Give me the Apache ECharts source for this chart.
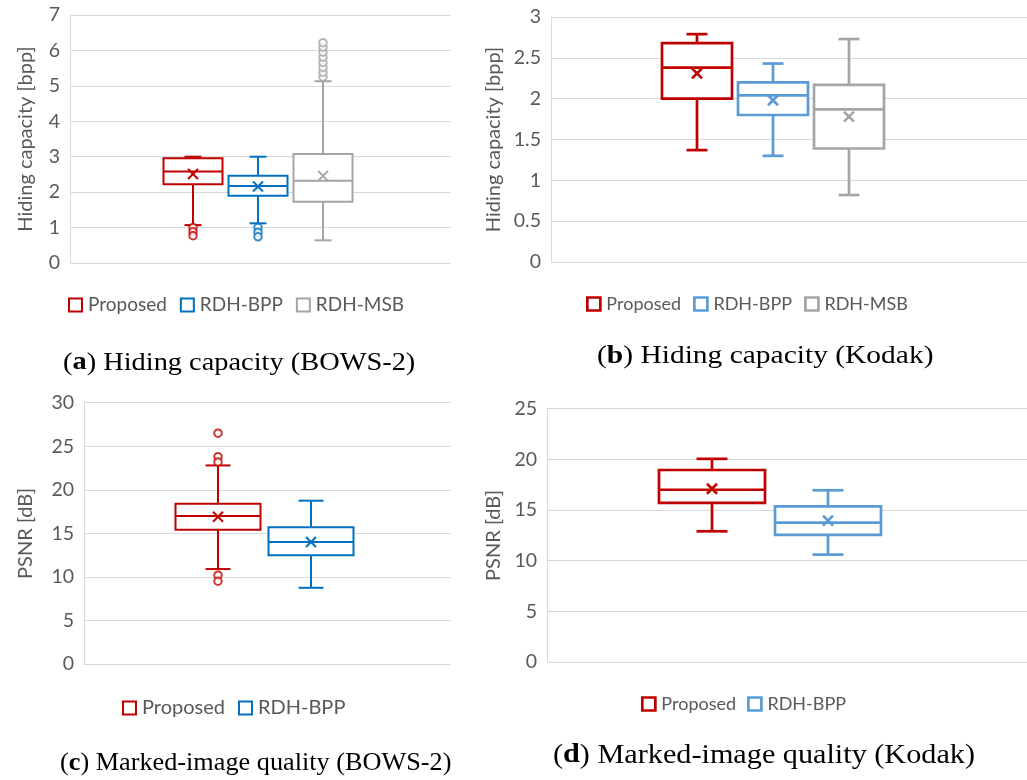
<!DOCTYPE html>
<html><head><meta charset="utf-8">
<script src="https://cdn.jsdelivr.net/npm/echarts@6/dist/echarts.min.js"></script>
<style>html,body{margin:0;padding:0;background:#fff}#c{width:1027px;height:780px}</style>
</head><body><div id="c"></div>
<script>
// ---- data: [min, Q1, median, Q3, max, mean] ----
const namesABC = ['Proposed', 'RDH-BPP', 'RDH-MSB'];
const namesCD = ['Proposed', 'RDH-BPP'];
const aProposed = [1.07, 2.22, 2.58, 2.96, 3.00, 2.51];
const aBPP = [1.12, 1.90, 2.17, 2.46, 3.00, 2.16];
const aMSB = [0.64, 1.73, 2.32, 3.08, 5.13, 2.46];
const aProposedOut = [1.00, 0.88, 0.77];
const aBPPOut = [1.00, 0.87, 0.74];
const aMSBOut = [5.25, 5.38, 5.52, 5.66, 5.81, 5.95, 6.09, 6.22];
const bProposed = [1.37, 2.00, 2.38, 2.68, 2.79, 2.31];
const bBPP = [1.30, 1.80, 2.04, 2.20, 2.43, 1.98];
const bMSB = [0.82, 1.39, 1.87, 2.17, 2.73, 1.78];
const cProposed = [10.9, 15.4, 17.0, 18.4, 22.8, 16.9];
const cBPP = [8.75, 12.5, 14.0, 15.7, 18.75, 14.0];
const cProposedOut = [26.5, 23.8, 23.2, 10.2, 9.5];
const dProposed = [12.9, 15.7, 17.0, 18.95, 20.05, 17.1];
const dBPP = [10.6, 12.55, 13.75, 15.35, 16.95, 13.95];
const ticksA = [0, 1, 2, 3, 4, 5, 6, 7];
const ticksB = [0, 0.5, 1, 1.5, 2, 2.5, 3];
const ticksC = [0, 5, 10, 15, 20, 25, 30];
const ticksD = [0, 5, 10, 15, 20, 25];
const yNameA = 'Hiding capacity [bpp]';
const yNameC = 'PSNR [dB]';
const captions = [
  ['a', ' Hiding capacity (BOWS-2)'],
  ['b', ' Hiding capacity (Kodak)'],
  ['c', ' Marked-image quality (BOWS-2)'],
  ['d', ' Marked-image quality (Kodak)']
];

const RED = '#C00000', BLUE1 = '#0070C0', BLUE2 = '#5B9BD5', GRAY = '#A5A5A5';
const TXT = '#595959', GRID = '#D9D9D9', FONT = 'Lato';

const panels = [
  {vis:{left:70, top:15, width:381, height:248}, box:{left:160.5, width:195},
   ticks:ticksA, yName:yNameA, nameGap:34, cats:namesABC,
   stats:[aProposed, aBPP, aMSB], outs:[aProposedOut, aBPPOut, aMSBOut],
   colors:[RED, BLUE1, GRAY], boxW:59, capW:17, lw:2,
   legend:{left:68, top:295.5, fs:19, gap:13}},
  {vis:{left:551, top:17, width:476, height:245}, box:{left:659, width:228},
   ticks:ticksB, yName:yNameA, nameGap:47, cats:namesABC,
   stats:[bProposed, bBPP, bMSB], outs:[[], [], []],
   colors:[RED, BLUE2, GRAY], boxW:70, capW:21, lw:2.7,
   legend:{left:586, top:295, fs:18, gap:12}},
  {vis:{left:84, top:402.7, width:367, height:261.3}, box:{left:171.5, width:186},
   ticks:ticksC, yName:yNameC, nameGap:48, cats:namesCD,
   stats:[cProposed, cBPP], outs:[cProposedOut, []],
   colors:[RED, BLUE1], boxW:85, capW:25, lw:2,
   legend:{left:122, top:698, fs:20, gap:13}},
  {vis:{left:547, top:408.7, width:480, height:253.3}, box:{left:654, width:232},
   ticks:ticksD, yName:yNameC, nameGap:43, cats:namesCD,
   stats:[dProposed, dBPP], outs:[[], []],
   colors:[RED, BLUE2], boxW:106, capW:31, lw:2.7,
   legend:{left:641, top:695, fs:18, gap:11}}
];

function boxRenderer(color, boxW, capW, lw, markSize) {
  return function (params, api) {
    const xi = api.value(0);
    const p = k => api.coord([xi, api.value(k)]);
    const pMin = p(1), pQ1 = p(2), pMed = p(3), pQ3 = p(4), pMax = p(5), pMean = p(6);
    const cx = pMin[0];
    const hb = boxW / 2, hc = capW / 2, hm = markSize / 2;
    const st = {stroke: color, lineWidth: lw, fill: null};
    return {type: 'group', children: [
      {type: 'line', shape: {x1: cx, y1: pQ3[1], x2: cx, y2: pMax[1]}, style: st},
      {type: 'line', shape: {x1: cx, y1: pQ1[1], x2: cx, y2: pMin[1]}, style: st},
      {type: 'line', shape: {x1: cx - hc, y1: pMax[1], x2: cx + hc, y2: pMax[1]}, style: st},
      {type: 'line', shape: {x1: cx - hc, y1: pMin[1], x2: cx + hc, y2: pMin[1]}, style: st},
      {type: 'rect', shape: {x: cx - hb, y: pQ3[1], width: boxW, height: pQ1[1] - pQ3[1]},
        style: {stroke: color, lineWidth: lw, fill: '#fff'}},
      {type: 'line', shape: {x1: cx - hb, y1: pMed[1], x2: cx + hb, y2: pMed[1]}, style: st},
      {type: 'line', shape: {x1: cx - hm, y1: pMean[1] - hm, x2: cx + hm, y2: pMean[1] + hm}, style: st},
      {type: 'line', shape: {x1: cx - hm, y1: pMean[1] + hm, x2: cx + hm, y2: pMean[1] - hm}, style: st}
    ]};
  };
}

const grid = [], xAxis = [], yAxis = [], series = [], legend = [];
panels.forEach((pn, i) => {
  const gv = grid.length;
  const t = pn.ticks;
  grid.push(Object.assign({containLabel: false}, pn.vis));
  grid.push({containLabel: false, left: pn.box.left, width: pn.box.width, top: pn.vis.top, height: pn.vis.height});
  const yRange = {min: t[0], max: t[t.length - 1], interval: t[1] - t[0]};
  xAxis.push({gridIndex: gv, type: 'value', show: false, min: 0, max: 1});
  xAxis.push({gridIndex: gv + 1, type: 'category', data: pn.cats, show: false});
  yAxis.push(Object.assign({
    gridIndex: gv, type: 'value',
    name: pn.yName, nameLocation: 'middle', nameGap: pn.nameGap,
    nameTextStyle: {fontFamily: FONT, fontSize: 20, color: TXT},
    axisLine: {show: true, lineStyle: {color: GRID, width: 1}},
    axisTick: {show: false},
    axisLabel: {fontFamily: FONT, fontSize: 19.5, color: TXT, margin: 10},
    splitLine: {show: true, lineStyle: {color: GRID, width: 1}}
  }, yRange));
  yAxis.push(Object.assign({gridIndex: gv + 1, type: 'value', show: false, splitLine: {show: false}}, yRange));
  pn.cats.forEach((nm, k) => {
    series.push({
      type: 'custom', name: nm, xAxisIndex: gv + 1, yAxisIndex: gv + 1,
      itemStyle: {color: pn.colors[k]},
      renderItem: boxRenderer(pn.colors[k], pn.boxW, pn.capW, pn.lw, 10),
      encode: {x: 0, y: [1, 2, 3, 4, 5, 6]},
      data: [[k].concat(pn.stats[k])], clip: false, silent: true, z: 3
    });
    if (pn.outs[k].length) {
      series.push({
        type: 'scatter', name: nm, xAxisIndex: gv + 1, yAxisIndex: gv + 1,
        symbol: 'emptyCircle', symbolSize: 7.5,
        itemStyle: {color: pn.colors[k], borderColor: pn.colors[k], borderWidth: 1.5},
        data: pn.outs[k].map(v => [k, v]), silent: true, z: 4
      });
    }
  });
  legend.push({
    left: pn.legend.left, top: pn.legend.top, orient: 'horizontal', padding: 0,
    icon: 'rect', itemWidth: 13, itemHeight: 13, itemGap: pn.legend.gap,
    selectedMode: false,
    textStyle: {fontFamily: FONT, fontSize: pn.legend.fs, color: TXT, padding: [0, 0, 0, 1]},
    data: pn.cats.map((nm, k) => ({name: nm,
      itemStyle: {color: '#fff', borderColor: pn.colors[k], borderWidth: pn.lw}}))
  });
});

// caption: left x, baseline y, font size, horizontal stretch
const capPos = [[63, 369, 25.5, 1.113], [597, 363, 26, 1.134], [60, 770, 25, 1.05], [553, 762, 26.5, 1.14]];
const graphic = captions.map((c, i) => {
  const fs = capPos[i][2];
  return {
    type: 'text', x: capPos[i][0], y: capPos[i][1] - 0.75 * fs, scaleX: capPos[i][3],
    style: {
      text: '{p|(}{b|' + c[0] + '}{p|)' + c[1] + '}',
      align: 'left', verticalAlign: 'top',
      rich: {
        p: {fontFamily: 'Liberation Serif', fontSize: fs, fill: '#000'},
        b: {fontFamily: 'Liberation Serif', fontSize: fs, fontWeight: 'bold', fill: '#000'}
      }
    }
  };
});

const chart = echarts.init(document.getElementById('c'), null, {renderer: 'canvas'});
chart.setOption({
  backgroundColor: '#fff', animation: false,
  grid, xAxis, yAxis, series, legend, graphic
});
</script></body></html>
